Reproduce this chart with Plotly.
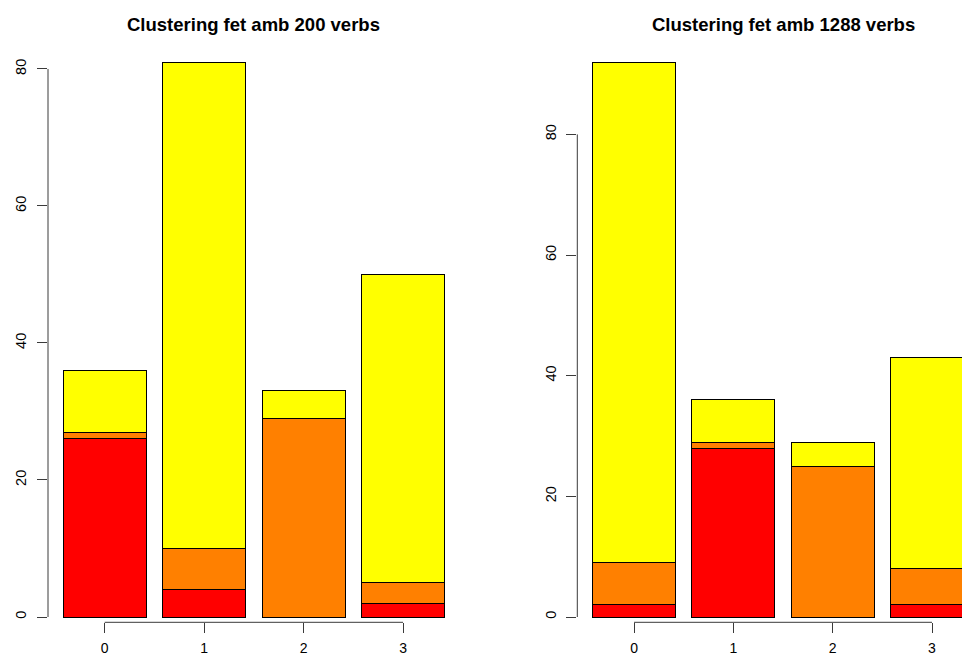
import plotly.graph_objects as go

# Cluster labels and stacked counts per colour group
clusters = ["0", "1", "2", "3"]

red_200 = [26, 4, 0, 2]
orange_200 = [1, 6, 29, 3]
yellow_200 = [9, 71, 4, 45]

red_1288 = [2, 28, 0, 2]
orange_1288 = [7, 1, 25, 6]
yellow_1288 = [83, 7, 4, 35]

titles = ["Clustering fet amb 200 verbs", "Clustering fet amb 1288 verbs"]
yticks = [0, 20, 40, 60, 80]

COLORS = ["#FF0000", "#FF8000", "#FFFF00"]
W, H = 962, 657
FONT = "Liberation Sans, Arial, sans-serif"
AXIS_COL = "#3a3a3a"
BAR_W = 1 / 1.2

pos = list(range(len(clusters)))

fig = go.Figure()


def add_stack(series, xa, ya):
    for vals, col in zip(series, COLORS):
        fig.add_trace(go.Bar(
            x=pos, y=vals, width=[BAR_W] * len(pos),
            marker=dict(color=col, line=dict(color="black", width=1)),
            xaxis=xa, yaxis=ya, hoverinfo="skip", showlegend=False,
        ))


add_stack([red_200, orange_200, yellow_200], "x", "y")
add_stack([red_1288, orange_1288, yellow_1288], "x2", "y2")

# panel geometry in pixels
y_dom = [1 - 622.3 / H, 1 - 40 / H]


def xaxis(dom_px, rng):
    return dict(
        domain=[dom_px[0] / W, dom_px[1] / W], range=rng,
        tickvals=pos, ticktext=clusters, ticks="outside", ticklen=10,
        tickcolor=AXIS_COL, tickwidth=1, showline=False, showgrid=False,
        zeroline=False, tickfont=dict(family=FONT, size=14, color="black"),
        ticklabelstandoff=3, fixedrange=True, automargin=False,
    )


def yaxis(rng, anchor):
    return dict(
        domain=y_dom, range=rng, anchor=anchor,
        tickvals=yticks, ticktext=[str(v) for v in yticks],
        ticks="outside", ticklen=10, tickcolor=AXIS_COL, tickwidth=1,
        tickangle=-90, showline=False, showgrid=False, zeroline=False,
        tickfont=dict(family=FONT, size=14.5, color="black"),
        ticklabelstandoff=5, fixedrange=True, automargin=False,
    )


fig.update_layout(
    width=W, height=H,
    margin=dict(l=0, r=0, t=0, b=0, autoexpand=False),
    paper_bgcolor="white", plot_bgcolor="white",
    barmode="stack", showlegend=False,
    xaxis=xaxis([48, 460], [-0.570, 3.573]),
    yaxis=yaxis([-0.774, 84.23], "x"),
    xaxis2=xaxis([577.3, 962], [-0.571, 3.302]),
    yaxis2=yaxis([-0.879, 95.65], "x2"),
)
fig.layout.xaxis2.anchor = "y2"
fig.layout.xaxis.anchor = "y"

# axis lines spanning only the tick range
for xr, yr in [("x", "y"), ("x2", "y2")]:
    fig.add_shape(type="line", xref=xr, yref=yr + " domain",
                  x0=pos[0], x1=pos[-1], y0=0, y1=0,
                  line=dict(color=AXIS_COL, width=1))
    fig.add_shape(type="line", xref=xr + " domain", yref=yr,
                  x0=0, x1=0, y0=yticks[0], y1=yticks[-1],
                  line=dict(color=AXIS_COL, width=1))

# panel titles
for title, cx in zip(titles, [253.8, 783.0]):
    fig.add_annotation(
        text="<b>%s</b>" % title, xref="paper", yref="paper",
        x=cx / W, y=1 - 24 / H, xanchor="center", yanchor="middle",
        showarrow=False, font=dict(family=FONT, size=18.5, color="black"),
    )

fig.write_html("out.html")
